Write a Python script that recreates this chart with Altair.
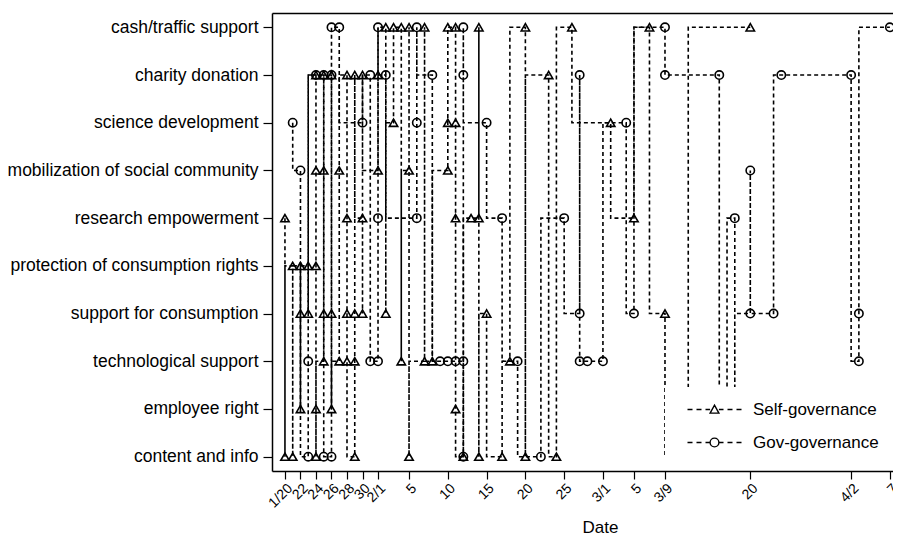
import altair as alt
import pandas as pd

categories = ["cash/traffic support", "charity donation", "science development",
              "mobilization of social community", "research empowerment",
              "protection of consumption rights", "support for consumption",
              "technological support", "employee right", "content and info"]
cat_keys = ["C", "H", "S", "M", "R", "P", "U", "T", "E", "N"]
series_names = ["Self-governance", "Gov-governance"]

# Self-governance events, in path order (date, category key)
self_dates = ["1/20", "1/20", "1/21", "1/21", "1/22", "1/22", "1/22", "1/23", "1/23",
              "1/24", "1/24", "1/24", "1/24", "1/24",
              "1/25", "1/25", "1/25", "1/25",
              "1/26", "1/26", "1/26",
              "1/27", "1/27",
              "1/28", "1/28", "1/28", "1/28",
              "1/29", "1/29", "1/29", "1/29",
              "1/30", "1/30", "1/30",
              "2/1", "2/1",
              "2/2", "2/2",
              "2/3", "2/3",
              "2/4", "2/4",
              "2/5", "2/5", "2/5",
              "2/7", "2/7",
              "2/8",
              "2/10", "2/10", "2/10",
              "2/11", "2/11", "2/11", "2/11",
              "2/12", "2/13", "2/14", "2/14", "2/14", "2/15", "2/17", "2/18", "2/20", "2/20",
              "2/23", "2/24", "2/26", "3/2", "3/5", "3/7", "3/9", "3/12", "3/20"]
self_cats = ["R", "N", "P", "N", "P", "U", "E", "P", "U",
             "H", "M", "P", "E", "N",
             "T", "U", "M", "H",
             "H", "U", "E",
             "T", "M",
             "H", "R", "U", "T",
             "N", "T", "U", "H",
             "R", "U", "H",
             "M", "H",
             "C", "U",
             "S", "C",
             "C", "T",
             "M", "C", "N",
             "T", "C",
             "T",
             "M", "S", "C",
             "C", "S", "R", "E",
             "N", "R", "R", "C", "N", "U", "N", "T", "C", "N",
             "H", "N", "C", "S", "R", "C", "U", "N", "C"]

# Gov-governance events, in path order
gov_dates = ["1/21", "1/22", "1/23", "1/23", "1/24", "1/25", "1/25", "1/26", "1/26", "1/26",
             "1/27", "1/30", "1/31", "1/31", "2/1", "2/1", "2/1", "2/2", "2/6", "2/6", "2/6",
             "2/8", "2/9", "2/10", "2/11", "2/12", "2/12", "2/12", "2/12", "2/15", "2/17",
             "2/19", "2/22", "2/25", "2/27", "2/27", "2/27", "2/28", "3/1", "3/4", "3/5",
             "3/9", "3/9", "3/16", "3/17", "3/18", "3/18", "3/20", "3/20", "3/23", "3/24",
             "4/2", "4/3", "4/3", "4/7"]
gov_cats = ["S", "M", "N", "T", "H", "H", "N", "N", "H", "C",
            "C", "S", "H", "T", "T", "R", "C", "H", "R", "S", "C",
            "H", "T", "T", "T", "T", "N", "H", "C", "S", "R",
            "T", "N", "R", "U", "H", "T", "T", "T", "S", "U",
            "C", "H", "H", "N", "R", "N", "U", "M", "U", "H",
            "H", "T", "U", "C"]

tick_dates = ["1/20", "1/22", "1/24", "1/26", "1/28", "1/30", "2/1", "2/5", "2/10", "2/15",
              "2/20", "2/25", "3/1", "3/5", "3/9", "3/20", "4/2", "4/7"]
tick_labels = ["1/20", "22", "24", "26", "28", "30", "2/1", "5", "10", "15",
               "20", "25", "3/1", "5", "3/9", "20", "4/2", "7"]

start = pd.Timestamp("2020-01-20")


def day(d):
    return int((pd.to_datetime("2020/" + d, format="%Y/%m/%d") - start).days)


key2cat = dict(zip(cat_keys, categories))
rows = []
for name, dates, cats in [(series_names[0], self_dates, self_cats),
                          (series_names[1], gov_dates, gov_cats)]:
    for i, (d, c) in enumerate(zip(dates, cats)):
        rows.append({"series": name, "day": day(d), "category": key2cat[c], "seq": i})
df = pd.DataFrame(rows)

tick_days = [day(d) for d in tick_dates]
label_expr = "".join(f"datum.value == {v} ? '{l}' : " for v, l in zip(tick_days, tick_labels)) + "''"

FONT = "Liberation Sans"

x_scale = alt.Scale(domain=[-1.67, 78.4], nice=False, zero=False)
y_scale = alt.Scale(domain=categories, type="point", padding=0.3)
y_axis = alt.Axis(title=None, labelFontSize=17.5, tickSize=9, labelPadding=5, labelLimit=0,
                  domainWidth=1.5, tickWidth=1.2, grid=False)
x_axis = alt.Axis(values=tick_days, labelExpr=label_expr, labelAngle=-45, labelFontSize=14,
                  labelOverlap=False, labelBound=False,
                  tickSize=8, tickWidth=1.2, title="Date", titleFontSize=17,
                  titleFontWeight="normal", titlePadding=9, titleX=328, grid=False,
                  domainWidth=1.5)
x_top = alt.Axis(orient="top", labels=False, ticks=False, title=None, grid=False,
                 domainWidth=1.5)

base = alt.Chart(df)

lines = base.mark_line(interpolate="step-before", strokeDash=[4, 3], strokeWidth=1.6,
                       color="black").encode(
    x=alt.X("day:Q", scale=x_scale, axis=x_axis),
    y=alt.Y("category:N", scale=y_scale, axis=y_axis),
    detail="series:N",
    order="seq:Q",
)

points = base.mark_point(filled=False, size=70, strokeWidth=1.6, color="black",
                         opacity=1).encode(
    x=alt.X("day:Q", scale=x_scale, axis=None),
    y=alt.Y("category:N", scale=y_scale, axis=y_axis),
    shape=alt.condition("datum.series == 'Self-governance'",
                        alt.value("triangle-up"), alt.value("circle")),
)

tri_path = ("M-6.75,0L-5.5,0M-4.5,0L-3.25,0M-2.25,0L-1.1,0"
            "M-1.1,0.9L0,-1.1L1.1,0.9Z"
            "M1.1,0L2.25,0M3.25,0L4.5,0M5.5,0L6.75,0")
circ_path = ("M-6.75,0L-5.5,0M-4.5,0L-3.25,0M-2.25,0L-1.1,0"
             "M-1.1,0A1.1,1.1 0 1,0 1.1,0A1.1,1.1 0 1,0 -1.1,0Z"
             "M1.1,0L2.25,0M3.25,0L4.5,0M5.5,0L6.75,0")

legend_layer = base.transform_filter("false").mark_point(
    filled=False, strokeWidth=1.4, color="black", opacity=1).encode(
    x=alt.X("day:Q", scale=x_scale, axis=x_top),
    y=alt.Y("category:N", scale=y_scale, axis=y_axis),
    shape=alt.Shape("series:N",
                    scale=alt.Scale(domain=series_names, range=[tri_path, circ_path]),
                    legend=alt.Legend(title=None, orient="none", legendX=393, legendY=374,
                                      symbolSize=64, symbolStrokeWidth=1.4,
                                      symbolStrokeColor="black",
                                      symbolFillColor="transparent",
                                      symbolOffset=27,
                                      labelFontSize=17, labelFont=FONT, labelOffset=30,
                                      rowPadding=15, padding=14, fillColor="white",
                                      zindex=1)),
)

chart = alt.layer(lines, points, legend_layer).resolve_axis(x="independent").properties(
    width=621, height=458,
    autosize=alt.AutoSizeParams(type="none"),
    padding={"left": 264, "top": 5, "right": 0, "bottom": 66},
).configure_view(stroke=None).configure_axis(
    labelFont=FONT, titleFont=FONT, labelColor="black", titleColor="black",
    domainColor="black", tickColor="black",
).configure_legend(labelColor="black")

chart.save("out.html", embed_options={"renderer": "svg", "actions": False})
